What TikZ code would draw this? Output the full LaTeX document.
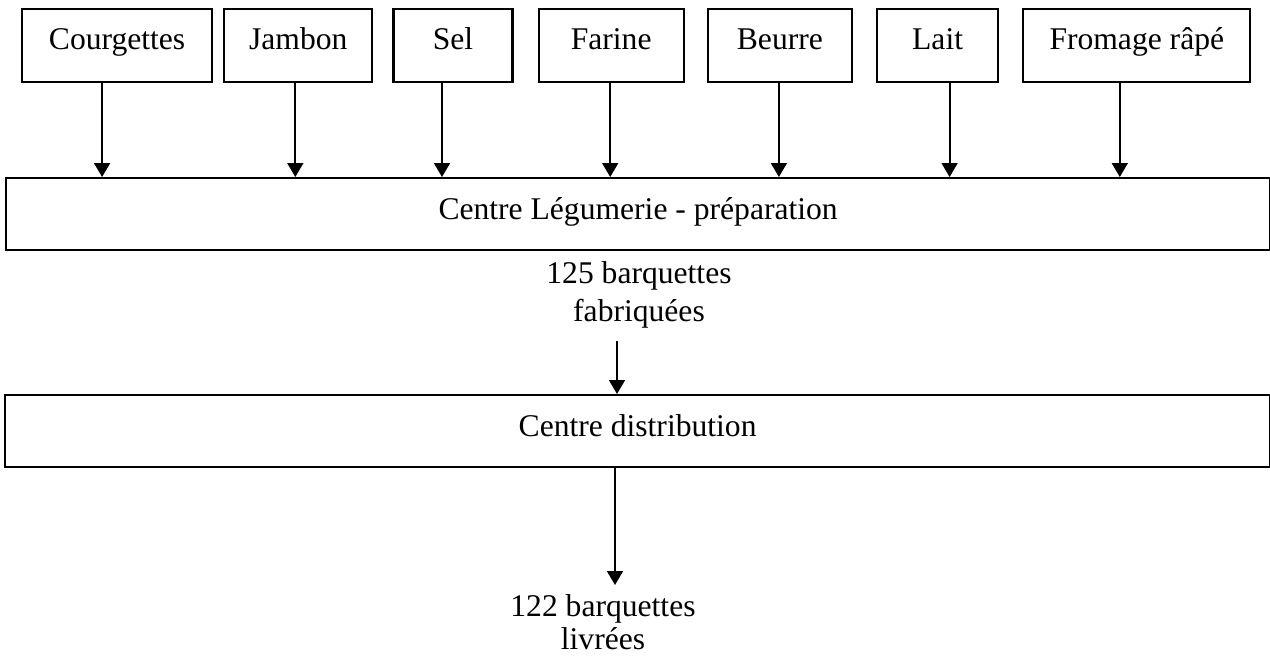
\documentclass[tikz,border=0pt]{standalone}
\usepackage{fontspec}
\setmainfont{Liberation Serif}
\usetikzlibrary{positioning, arrows.meta}
\tikzset{
  >={Triangle[width=8pt,length=7pt]},
  ingr/.style={draw, line width=1.1pt, minimum height=36.5pt, inner sep=0pt,
    text height=11pt, text depth=7pt},
  centre/.style={draw, line width=1.1pt, minimum height=36pt, inner sep=0pt,
    text height=11pt, text depth=6pt},
  qty/.style={align=center},
  flow/.style={->, line width=0.9pt},
}

\begin{document}
\begin{tikzpicture}[every node/.style={font=\fontsize{15.8}{17}\selectfont}]
        \useasboundingbox (0,0) rectangle (635pt,-329.5pt);

        % ingredients
        \node[ingr, minimum width=95pt, anchor=north west] (cour) at (10.5pt,-4pt) {Courgettes};
        \node[ingr, minimum width=74pt, right=5pt of cour] (jamb) {Jambon};
        \node[ingr, minimum width=59.5pt, right=9.5pt of jamb] (sel) {Sel};
        \node[ingr, minimum width=72.5pt, right=12pt of sel] (far) {Farine};
        \node[ingr, minimum width=72pt, right=11pt of far] (beur) {Beurre};
        \node[ingr, minimum width=60.5pt, right=11.5pt of beur] (lait) {Lait};
        \node[ingr, minimum width=113.5pt, right=11.5pt of lait] (from) {Fromage râpé};

        % centres
        \node[centre, minimum width=632pt, anchor=north west] (leg) at (2.5pt,-88.5pt) {Centre Légumerie - préparation};
        \node[centre, minimum width=632.5pt, anchor=north west] (dist) at (2pt,-197pt) {Centre distribution};

        % quantities
        \node[qty] (fab) at (319.5pt,-147.5pt) {125 barquettes\\[2pt] fabriquées};
        \node[qty, anchor=north] (liv) at (301.5pt,-293.5pt) {122 barquettes\\ livrées};

        % flows
        \foreach \n/\dx in {cour/-7.5, jamb/-1.5, sel/-5.5, far/-0.5, beur/-0.5, lait/6, from/-8.5} {
          \coordinate (t) at ([xshift=\dx pt]\n.south);
          \draw[flow] (t) -- (t |- leg.north);
        }
        \coordinate (fin) at ([xshift=-11pt, yshift=-3pt]fab.south);
        \draw[flow] (fin) -- (fin |- dist.north);
        \coordinate (out) at ([xshift=6pt, yshift=1pt]liv.north);
        \draw[flow] (out |- dist.south) -- (out);
\end{tikzpicture}
\end{document}
